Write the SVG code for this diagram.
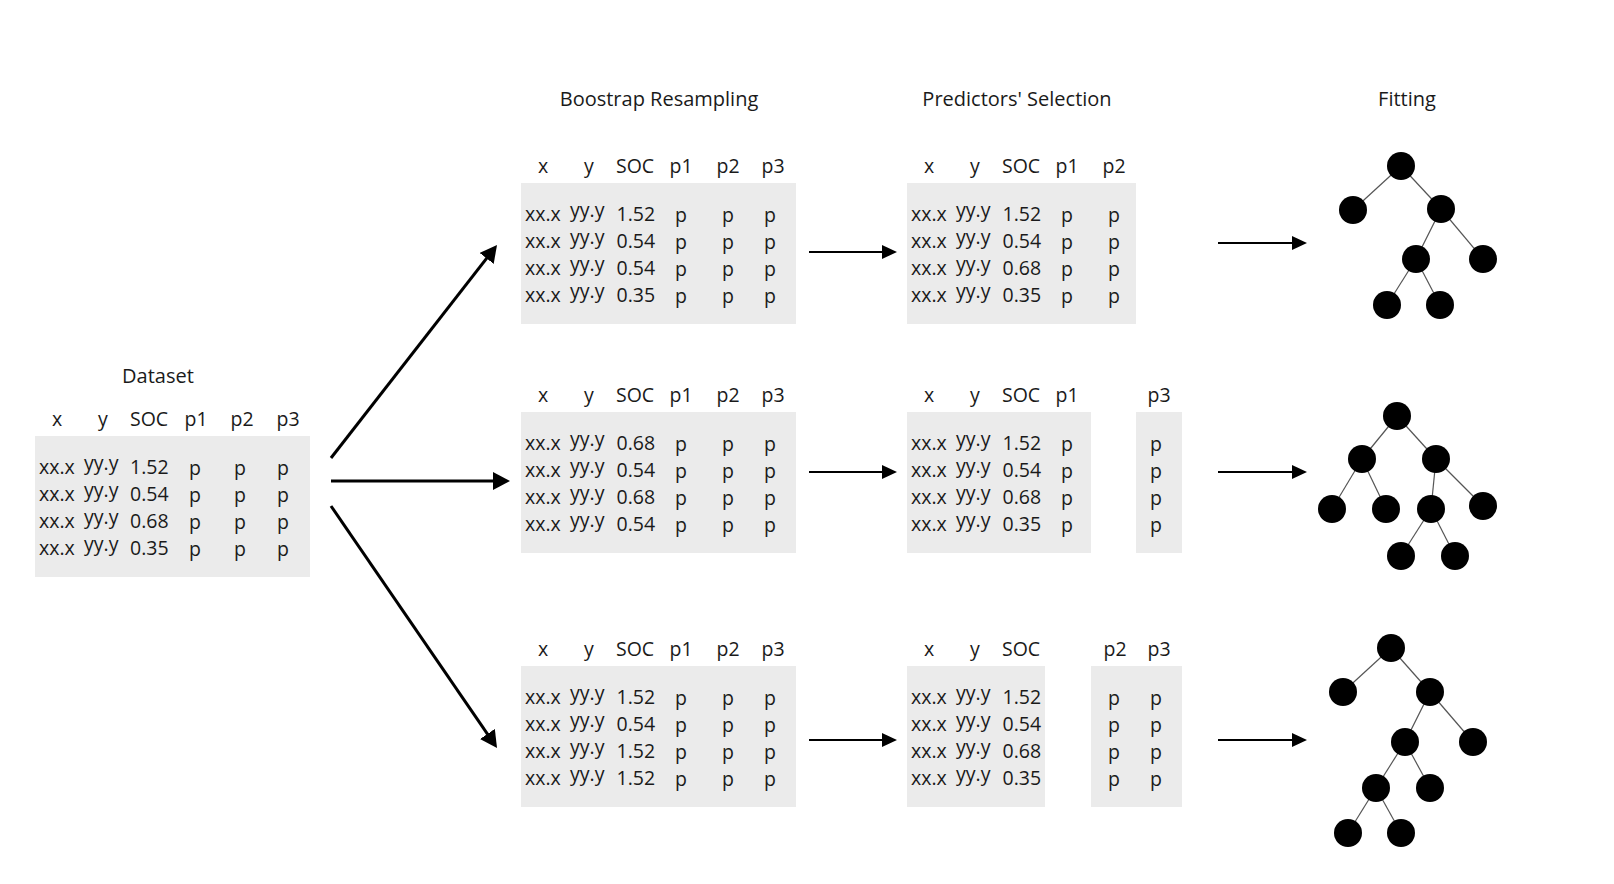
<svg xmlns="http://www.w3.org/2000/svg" width="1614" height="884" viewBox="0 0 1614 884">
<style>
.t{font-family:"Open Sans","Noto Sans","Liberation Sans",sans-serif;font-size:19.5px;fill:#1a1a1a}
.ti{font-family:"Open Sans","Noto Sans","Liberation Sans",sans-serif;font-size:20px;fill:#1a1a1a;text-anchor:middle}
.m{text-anchor:middle}
.box{fill:#ebebeb}
.big{stroke:#000;stroke-width:3;fill:none}
.sm{stroke:#000;stroke-width:2;fill:none}
.edge{stroke:#555;stroke-width:1.2}
.nd{fill:#000}
</style>
<defs>
<marker id="ahBig" markerUnits="userSpaceOnUse" markerWidth="17" markerHeight="18" refX="9" refY="9" orient="auto">
<path d="M0,0 L17,9 L0,18 Z" fill="#000"/>
</marker>
<marker id="ahSm" markerUnits="userSpaceOnUse" markerWidth="15" markerHeight="14" refX="9" refY="7" orient="auto">
<path d="M0,0 L15,7 L0,14 Z" fill="#000"/>
</marker>
</defs>
<rect width="1614" height="884" fill="#fff"/>

<g id="titles">
<text class="ti" x="659" y="106">Boostrap Resampling</text>
<text class="ti" x="1017" y="106">Predictors' Selection</text>
<text class="ti" x="1407" y="106">Fitting</text>
</g>

<g id="dataset" transform="translate(35,436)">
<text class="ti" x="123" y="-53">Dataset</text>
<rect class="box" x="0" y="0" width="275" height="141"/>
<text class="t m" x="22" y="-10">x</text>
<text class="t m" x="68" y="-10">y</text>
<text class="t" x="95" y="-10">SOC</text>
<text class="t m" x="161" y="-10">p1</text>
<text class="t m" x="207" y="-10">p2</text>
<text class="t m" x="253" y="-10">p3</text>
<text class="t"><tspan x="4" y="38">xx.x</tspan><tspan x="4" y="65">xx.x</tspan><tspan x="4" y="92">xx.x</tspan><tspan x="4" y="119">xx.x</tspan></text>
<text class="t"><tspan x="49" y="34">yy.y</tspan><tspan x="49" y="61">yy.y</tspan><tspan x="49" y="88">yy.y</tspan><tspan x="49" y="115">yy.y</tspan></text>
<text class="t"><tspan x="95" y="38">1.52</tspan><tspan x="95" y="65">0.54</tspan><tspan x="95" y="92">0.68</tspan><tspan x="95" y="119">0.35</tspan></text>
<text class="t m"><tspan x="160" y="39">p</tspan><tspan x="160" y="66">p</tspan><tspan x="160" y="93">p</tspan><tspan x="160" y="120">p</tspan></text>
<text class="t m"><tspan x="205" y="39">p</tspan><tspan x="205" y="66">p</tspan><tspan x="205" y="93">p</tspan><tspan x="205" y="120">p</tspan></text>
<text class="t m"><tspan x="248" y="39">p</tspan><tspan x="248" y="66">p</tspan><tspan x="248" y="93">p</tspan><tspan x="248" y="120">p</tspan></text>
</g>

<g id="boot1" transform="translate(521,183)">
<rect class="box" x="0" y="0" width="275" height="141"/>
<text class="t m" x="22" y="-10">x</text>
<text class="t m" x="68" y="-10">y</text>
<text class="t" x="95" y="-10">SOC</text>
<text class="t m" x="160" y="-10">p1</text>
<text class="t m" x="207" y="-10">p2</text>
<text class="t m" x="252" y="-10">p3</text>
<text class="t"><tspan x="4" y="38">xx.x</tspan><tspan x="4" y="65">xx.x</tspan><tspan x="4" y="92">xx.x</tspan><tspan x="4" y="119">xx.x</tspan></text>
<text class="t"><tspan x="49" y="34">yy.y</tspan><tspan x="49" y="61">yy.y</tspan><tspan x="49" y="88">yy.y</tspan><tspan x="49" y="115">yy.y</tspan></text>
<text class="t"><tspan x="95.5" y="38">1.52</tspan><tspan x="95.5" y="65">0.54</tspan><tspan x="95.5" y="92">0.54</tspan><tspan x="95.5" y="119">0.35</tspan></text>
<text class="t m"><tspan x="160" y="39">p</tspan><tspan x="160" y="66">p</tspan><tspan x="160" y="93">p</tspan><tspan x="160" y="120">p</tspan></text>
<text class="t m"><tspan x="207" y="39">p</tspan><tspan x="207" y="66">p</tspan><tspan x="207" y="93">p</tspan><tspan x="207" y="120">p</tspan></text>
<text class="t m"><tspan x="249" y="39">p</tspan><tspan x="249" y="66">p</tspan><tspan x="249" y="93">p</tspan><tspan x="249" y="120">p</tspan></text>
</g>

<g id="boot2" transform="translate(521,412)">
<rect class="box" x="0" y="0" width="275" height="141"/>
<text class="t m" x="22" y="-10">x</text>
<text class="t m" x="68" y="-10">y</text>
<text class="t" x="95" y="-10">SOC</text>
<text class="t m" x="160" y="-10">p1</text>
<text class="t m" x="207" y="-10">p2</text>
<text class="t m" x="252" y="-10">p3</text>
<text class="t"><tspan x="4" y="38">xx.x</tspan><tspan x="4" y="65">xx.x</tspan><tspan x="4" y="92">xx.x</tspan><tspan x="4" y="119">xx.x</tspan></text>
<text class="t"><tspan x="49" y="34">yy.y</tspan><tspan x="49" y="61">yy.y</tspan><tspan x="49" y="88">yy.y</tspan><tspan x="49" y="115">yy.y</tspan></text>
<text class="t"><tspan x="95.5" y="38">0.68</tspan><tspan x="95.5" y="65">0.54</tspan><tspan x="95.5" y="92">0.68</tspan><tspan x="95.5" y="119">0.54</tspan></text>
<text class="t m"><tspan x="160" y="39">p</tspan><tspan x="160" y="66">p</tspan><tspan x="160" y="93">p</tspan><tspan x="160" y="120">p</tspan></text>
<text class="t m"><tspan x="207" y="39">p</tspan><tspan x="207" y="66">p</tspan><tspan x="207" y="93">p</tspan><tspan x="207" y="120">p</tspan></text>
<text class="t m"><tspan x="249" y="39">p</tspan><tspan x="249" y="66">p</tspan><tspan x="249" y="93">p</tspan><tspan x="249" y="120">p</tspan></text>
</g>

<g id="boot3" transform="translate(521,666)">
<rect class="box" x="0" y="0" width="275" height="141"/>
<text class="t m" x="22" y="-10">x</text>
<text class="t m" x="68" y="-10">y</text>
<text class="t" x="95" y="-10">SOC</text>
<text class="t m" x="160" y="-10">p1</text>
<text class="t m" x="207" y="-10">p2</text>
<text class="t m" x="252" y="-10">p3</text>
<text class="t"><tspan x="4" y="38">xx.x</tspan><tspan x="4" y="65">xx.x</tspan><tspan x="4" y="92">xx.x</tspan><tspan x="4" y="119">xx.x</tspan></text>
<text class="t"><tspan x="49" y="34">yy.y</tspan><tspan x="49" y="61">yy.y</tspan><tspan x="49" y="88">yy.y</tspan><tspan x="49" y="115">yy.y</tspan></text>
<text class="t"><tspan x="95.5" y="38">1.52</tspan><tspan x="95.5" y="65">0.54</tspan><tspan x="95.5" y="92">1.52</tspan><tspan x="95.5" y="119">1.52</tspan></text>
<text class="t m"><tspan x="160" y="39">p</tspan><tspan x="160" y="66">p</tspan><tspan x="160" y="93">p</tspan><tspan x="160" y="120">p</tspan></text>
<text class="t m"><tspan x="207" y="39">p</tspan><tspan x="207" y="66">p</tspan><tspan x="207" y="93">p</tspan><tspan x="207" y="120">p</tspan></text>
<text class="t m"><tspan x="249" y="39">p</tspan><tspan x="249" y="66">p</tspan><tspan x="249" y="93">p</tspan><tspan x="249" y="120">p</tspan></text>
</g>

<g id="sel1" transform="translate(907,183)">
<rect class="box" x="0" y="0" width="229" height="141"/>
<text class="t m" x="22" y="-10">x</text>
<text class="t m" x="68" y="-10">y</text>
<text class="t" x="95" y="-10">SOC</text>
<text class="t m" x="160" y="-10">p1</text>
<text class="t m" x="207" y="-10">p2</text>
<text class="t"><tspan x="4" y="38">xx.x</tspan><tspan x="4" y="65">xx.x</tspan><tspan x="4" y="92">xx.x</tspan><tspan x="4" y="119">xx.x</tspan></text>
<text class="t"><tspan x="49" y="34">yy.y</tspan><tspan x="49" y="61">yy.y</tspan><tspan x="49" y="88">yy.y</tspan><tspan x="49" y="115">yy.y</tspan></text>
<text class="t"><tspan x="95.5" y="38">1.52</tspan><tspan x="95.5" y="65">0.54</tspan><tspan x="95.5" y="92">0.68</tspan><tspan x="95.5" y="119">0.35</tspan></text>
<text class="t m"><tspan x="160" y="39">p</tspan><tspan x="160" y="66">p</tspan><tspan x="160" y="93">p</tspan><tspan x="160" y="120">p</tspan></text>
<text class="t m"><tspan x="207" y="39">p</tspan><tspan x="207" y="66">p</tspan><tspan x="207" y="93">p</tspan><tspan x="207" y="120">p</tspan></text>
</g>

<g id="sel2" transform="translate(907,412)">
<rect class="box" x="0" y="0" width="184" height="141"/>
<rect class="box" x="229" y="0" width="46" height="141"/>
<text class="t m" x="22" y="-10">x</text>
<text class="t m" x="68" y="-10">y</text>
<text class="t" x="95" y="-10">SOC</text>
<text class="t m" x="160" y="-10">p1</text>
<text class="t m" x="252" y="-10">p3</text>
<text class="t"><tspan x="4" y="38">xx.x</tspan><tspan x="4" y="65">xx.x</tspan><tspan x="4" y="92">xx.x</tspan><tspan x="4" y="119">xx.x</tspan></text>
<text class="t"><tspan x="49" y="34">yy.y</tspan><tspan x="49" y="61">yy.y</tspan><tspan x="49" y="88">yy.y</tspan><tspan x="49" y="115">yy.y</tspan></text>
<text class="t"><tspan x="95.5" y="38">1.52</tspan><tspan x="95.5" y="65">0.54</tspan><tspan x="95.5" y="92">0.68</tspan><tspan x="95.5" y="119">0.35</tspan></text>
<text class="t m"><tspan x="160" y="39">p</tspan><tspan x="160" y="66">p</tspan><tspan x="160" y="93">p</tspan><tspan x="160" y="120">p</tspan></text>
<text class="t m"><tspan x="249" y="39">p</tspan><tspan x="249" y="66">p</tspan><tspan x="249" y="93">p</tspan><tspan x="249" y="120">p</tspan></text>
</g>

<g id="sel3" transform="translate(907,666)">
<rect class="box" x="0" y="0" width="138" height="141"/>
<rect class="box" x="184" y="0" width="91" height="141"/>
<text class="t m" x="22" y="-10">x</text>
<text class="t m" x="68" y="-10">y</text>
<text class="t" x="95" y="-10">SOC</text>
<text class="t m" x="208" y="-10">p2</text>
<text class="t m" x="252" y="-10">p3</text>
<text class="t"><tspan x="4" y="38">xx.x</tspan><tspan x="4" y="65">xx.x</tspan><tspan x="4" y="92">xx.x</tspan><tspan x="4" y="119">xx.x</tspan></text>
<text class="t"><tspan x="49" y="34">yy.y</tspan><tspan x="49" y="61">yy.y</tspan><tspan x="49" y="88">yy.y</tspan><tspan x="49" y="115">yy.y</tspan></text>
<text class="t"><tspan x="95.5" y="38">1.52</tspan><tspan x="95.5" y="65">0.54</tspan><tspan x="95.5" y="92">0.68</tspan><tspan x="95.5" y="119">0.35</tspan></text>
<text class="t m"><tspan x="207" y="39">p</tspan><tspan x="207" y="66">p</tspan><tspan x="207" y="93">p</tspan><tspan x="207" y="120">p</tspan></text>
<text class="t m"><tspan x="249" y="39">p</tspan><tspan x="249" y="66">p</tspan><tspan x="249" y="93">p</tspan><tspan x="249" y="120">p</tspan></text>
</g>

<g id="connectors">
<line class="big" x1="331" y1="458" x2="492.1" y2="251.3" marker-end="url(#ahBig)"/>
<line class="big" x1="331" y1="481" x2="502" y2="481" marker-end="url(#ahBig)"/>
<line class="big" x1="331" y1="506" x2="492.5" y2="741.4" marker-end="url(#ahBig)"/>
<line class="sm" x1="809" y1="252" x2="891" y2="252" marker-end="url(#ahSm)"/>
<line class="sm" x1="809" y1="472" x2="891" y2="472" marker-end="url(#ahSm)"/>
<line class="sm" x1="809" y1="740" x2="891" y2="740" marker-end="url(#ahSm)"/>
<line class="sm" x1="1218" y1="243" x2="1301" y2="243" marker-end="url(#ahSm)"/>
<line class="sm" x1="1218" y1="472" x2="1301" y2="472" marker-end="url(#ahSm)"/>
<line class="sm" x1="1218" y1="740" x2="1301" y2="740" marker-end="url(#ahSm)"/>
</g>

<g id="tree1">
<line class="edge" x1="1401" y1="166" x2="1353" y2="210"/>
<line class="edge" x1="1401" y1="166" x2="1441" y2="209"/>
<line class="edge" x1="1441" y1="209" x2="1416" y2="259"/>
<line class="edge" x1="1441" y1="209" x2="1483" y2="259"/>
<line class="edge" x1="1416" y1="259" x2="1387" y2="305"/>
<line class="edge" x1="1416" y1="259" x2="1440" y2="305"/>
<circle class="nd" cx="1401" cy="166" r="14"/>
<circle class="nd" cx="1353" cy="210" r="14"/>
<circle class="nd" cx="1441" cy="209" r="14"/>
<circle class="nd" cx="1416" cy="259" r="14"/>
<circle class="nd" cx="1483" cy="259" r="14"/>
<circle class="nd" cx="1387" cy="305" r="14"/>
<circle class="nd" cx="1440" cy="305" r="14"/>
</g>

<g id="tree2">
<line class="edge" x1="1397" y1="416" x2="1362" y2="459"/>
<line class="edge" x1="1397" y1="416" x2="1436" y2="459"/>
<line class="edge" x1="1362" y1="459" x2="1332" y2="509"/>
<line class="edge" x1="1362" y1="459" x2="1386" y2="509"/>
<line class="edge" x1="1436" y1="459" x2="1431" y2="509"/>
<line class="edge" x1="1436" y1="459" x2="1483" y2="506"/>
<line class="edge" x1="1431" y1="509" x2="1401" y2="556"/>
<line class="edge" x1="1431" y1="509" x2="1455" y2="556"/>
<circle class="nd" cx="1397" cy="416" r="14"/>
<circle class="nd" cx="1362" cy="459" r="14"/>
<circle class="nd" cx="1436" cy="459" r="14"/>
<circle class="nd" cx="1332" cy="509" r="14"/>
<circle class="nd" cx="1386" cy="509" r="14"/>
<circle class="nd" cx="1431" cy="509" r="14"/>
<circle class="nd" cx="1483" cy="506" r="14"/>
<circle class="nd" cx="1401" cy="556" r="14"/>
<circle class="nd" cx="1455" cy="556" r="14"/>
</g>

<g id="tree3">
<line class="edge" x1="1391" y1="648" x2="1343" y2="692"/>
<line class="edge" x1="1391" y1="648" x2="1430" y2="692"/>
<line class="edge" x1="1430" y1="692" x2="1405" y2="742"/>
<line class="edge" x1="1430" y1="692" x2="1473" y2="742"/>
<line class="edge" x1="1405" y1="742" x2="1376" y2="788"/>
<line class="edge" x1="1405" y1="742" x2="1430" y2="788"/>
<line class="edge" x1="1376" y1="788" x2="1348" y2="833"/>
<line class="edge" x1="1376" y1="788" x2="1401" y2="833"/>
<circle class="nd" cx="1391" cy="648" r="14"/>
<circle class="nd" cx="1343" cy="692" r="14"/>
<circle class="nd" cx="1430" cy="692" r="14"/>
<circle class="nd" cx="1405" cy="742" r="14"/>
<circle class="nd" cx="1473" cy="742" r="14"/>
<circle class="nd" cx="1376" cy="788" r="14"/>
<circle class="nd" cx="1430" cy="788" r="14"/>
<circle class="nd" cx="1348" cy="833" r="14"/>
<circle class="nd" cx="1401" cy="833" r="14"/>
</g>
</svg>
